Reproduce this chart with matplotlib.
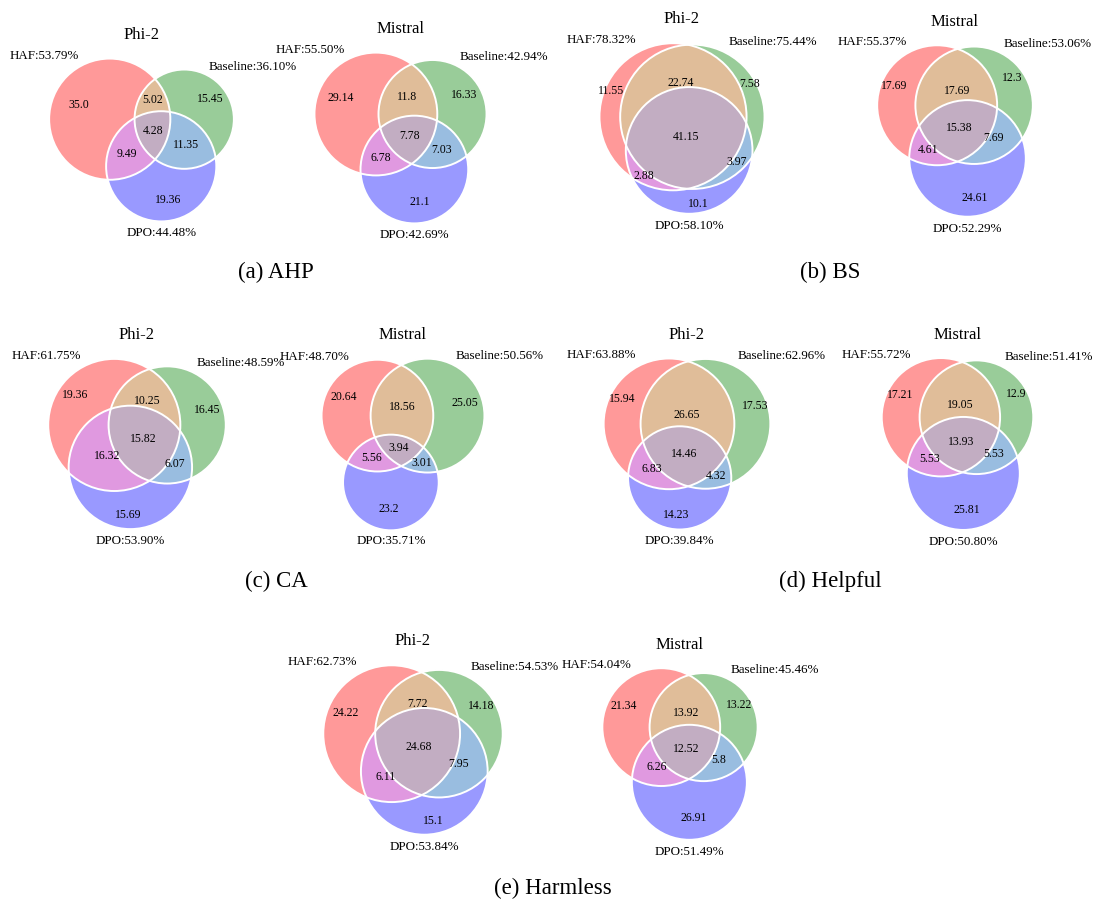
import numpy as np
import matplotlib
matplotlib.use('Agg')
import matplotlib.pyplot as plt
from matplotlib.patches import Circle, Polygon

plt.rcParams['font.family'] = ['Liberation Serif', 'DejaVu Serif']

# subset order (as venn3): HAF only, Baseline only, HAF&Baseline, DPO only,
#                          HAF&DPO, Baseline&DPO, all three
set_names = ['HAF', 'Baseline', 'DPO']
models    = ['Phi-2', 'Mistral']
captions  = ['(a) AHP', '(b) BS', '(c) CA', '(d) Helpful', '(e) Harmless']

ahp_phi2         = [35.0, 15.45, 5.02, 19.36, 9.49, 11.35, 4.28]
ahp_mistral      = [29.14, 16.33, 11.8, 21.1, 6.78, 7.03, 7.78]
bs_phi2          = [11.55, 7.58, 22.74, 10.1, 2.88, 3.97, 41.15]
bs_mistral       = [17.69, 12.3, 17.69, 24.61, 4.61, 7.69, 15.38]
ca_phi2          = [19.36, 16.45, 10.25, 15.69, 16.32, 6.07, 15.82]
ca_mistral       = [20.64, 25.05, 18.56, 23.2, 5.56, 3.01, 3.94]
helpful_phi2     = [15.94, 17.53, 26.65, 14.23, 6.83, 4.32, 14.46]
helpful_mistral  = [17.21, 12.9, 19.05, 25.81, 5.53, 5.53, 13.93]
harmless_phi2    = [24.22, 14.18, 7.72, 15.1, 6.11, 7.95, 24.68]
harmless_mistral = [21.34, 13.22, 13.92, 26.91, 6.26, 5.8, 12.52]

datasets = [(ahp_phi2, ahp_mistral), (bs_phi2, bs_mistral), (ca_phi2, ca_mistral),
            (helpful_phi2, helpful_mistral), (harmless_phi2, harmless_mistral)]

# layout (pixels)
FW, FH = 1105, 905
BW, BH = 214, 200
panel_xy = [[(141.5, 140), (400.5, 138)], [(682, 128.5), (955, 131)],
            [(137, 444), (403, 444.5)], [(687, 444), (957.5, 444)],
            [(413, 750), (680, 754)]]
caption_xy = [(276, 278), (830, 278), (276, 587), (830, 587), (553, 894)]

# colours like venn3 defaults (r, g, b with alpha 0.4 on white)
base = np.array([[1, 0, 0], [0, 0.5, 0], [0, 0, 1]], float)
def on_white(c, alpha=0.4):
    return tuple(1 - alpha + alpha * np.minimum(c, 1))
col_single = [on_white(c) for c in base]
col_pair = {(0, 1): on_white(0.7 * (base[0] + base[1])),
            (0, 2): on_white(0.7 * (base[0] + base[2])),
            (1, 2): on_white(0.7 * (base[1] + base[2]))}
col_all = on_white(0.4 * base.sum(0))


def lens_area(r1, r2, d):
    if d >= r1 + r2:
        return 0.0
    if d <= abs(r1 - r2):
        return np.pi * min(r1, r2) ** 2
    a1 = r1 ** 2 * np.arccos((d * d + r1 * r1 - r2 * r2) / (2 * d * r1))
    a2 = r2 ** 2 * np.arccos((d * d + r2 * r2 - r1 * r1) / (2 * d * r2))
    a3 = 0.5 * np.sqrt((-d + r1 + r2) * (d + r1 - r2) * (d - r1 + r2) * (d + r1 + r2))
    return a1 + a2 - a3


def dist_for_area(r1, r2, area):
    lo, hi = abs(r1 - r2), r1 + r2
    for _ in range(60):
        mid = (lo + hi) / 2
        if lens_area(r1, r2, mid) > area:
            lo = mid
        else:
            hi = mid
    return (lo + hi) / 2


def layout(sub):
    s = np.array(sub, float) / np.sum(sub)
    a, b, ab, c, ac, bc, abc = s
    radii = np.sqrt(np.array([a + ab + ac + abc, b + ab + bc + abc, c + ac + bc + abc]) / np.pi)
    d_ab = dist_for_area(radii[0], radii[1], ab + abc)
    d_bc = dist_for_area(radii[1], radii[2], bc + abc)
    d_ac = dist_for_area(radii[0], radii[2], ac + abc)
    cx = (d_ac ** 2 - d_bc ** 2 + d_ab ** 2) / (2 * d_ab)
    cy = -np.sqrt(max(d_ac ** 2 - cx ** 2, 0))
    return np.array([[0, 0], [d_ab, 0], [cx, cy]], float), radii


def crossings(centers, radii, i, j):
    v = centers[j] - centers[i]
    d = np.hypot(*v)
    if d >= radii[i] + radii[j] or d <= abs(radii[i] - radii[j]):
        return []
    a = (d * d + radii[i] ** 2 - radii[j] ** 2) / (2 * d)
    h = np.sqrt(max(radii[i] ** 2 - a * a, 0))
    u = v / d
    perp = np.array([-u[1], u[0]])
    return [centers[i] + a * u + h * perp, centers[i] + a * u - h * perp]


def inter_poly(centers, radii, idx, n=720):
    t = np.linspace(0, 2 * np.pi, n, endpoint=False)
    pts = []
    for i in idx:
        p = centers[i] + radii[i] * np.c_[np.cos(t), np.sin(t)]
        keep = np.ones(n, bool)
        for j in idx:
            if j != i:
                keep &= np.hypot(*(p - centers[j]).T) <= radii[j]
        pts.append(p[keep])
    for i in idx:
        for j in idx:
            if j <= i:
                continue
            for q in crossings(centers, radii, i, j):
                if all(np.hypot(*(q - centers[k])) <= radii[k] + 1e-9 for k in idx if k not in (i, j)):
                    pts.append(q[None, :])
    pts = np.vstack(pts)
    m = pts.mean(0)
    order = np.argsort(np.arctan2(pts[:, 1] - m[1], pts[:, 0] - m[0]))
    return pts[order]


codes = [(1, 0, 0), (0, 1, 0), (1, 1, 0), (0, 0, 1), (1, 0, 1), (0, 1, 1), (1, 1, 1)]

def in_region(p, code, centers, radii):
    return all((np.hypot(*(p - centers[k])) < radii[k]) == bool(code[k]) for k in range(3))


def region_arcs(code, centers, radii):
    # boundary arcs of a region: (length, midpoint, inward normal, end points)
    arcs = []
    for i in range(3):
        angs = []
        for j in range(3):
            if j != i:
                for q in crossings(centers, radii, i, j):
                    angs.append(np.arctan2(q[1] - centers[i][1], q[0] - centers[i][0]))
        angs = sorted(a % (2 * np.pi) for a in angs)
        if not angs:
            spans = [(0.0, 2 * np.pi)]
        else:
            spans = [(angs[k], angs[(k + 1) % len(angs)] + (2 * np.pi if k == len(angs) - 1 else 0))
                     for k in range(len(angs))]
        for t0, t1 in spans:
            tm = (t0 + t1) / 2
            u = np.array([np.cos(tm), np.sin(tm)])
            mid = centers[i] + radii[i] * u
            if all((np.hypot(*(mid - centers[j])) < radii[j]) == bool(code[j]) for j in range(3) if j != i):
                ends = [centers[i] + radii[i] * np.array([np.cos(t), np.sin(t)]) for t in (t0, t1)]
                arcs.append((radii[i] * (t1 - t0), mid, -u if code[i] else u, ends))
    return arcs


def hull_area(pts):
    pts = pts[np.lexsort((pts[:, 1], pts[:, 0]))]
    def half(ps):
        h = []
        for p in ps:
            while len(h) >= 2 and ((h[-1][0] - h[-2][0]) * (p[1] - h[-2][1]) -
                                   (h[-1][1] - h[-2][1]) * (p[0] - h[-2][0])) <= 0:
                h.pop()
            h.append(p)
        return h
    hull = np.array(half(pts)[:-1] + half(pts[::-1])[:-1])
    x, y = hull[:, 0], hull[:, 1]
    return 0.5 * abs(np.dot(x, np.roll(y, -1)) - np.dot(y, np.roll(x, -1)))


def march(mid, nrm, code, centers, radii):
    step = radii.max() / 500
    s = step
    while s < 3 * radii.max() and in_region(mid + s * nrm, code, centers, radii):
        s += step
    return s


def label_spots(centers, radii, n=240):
    lo = (centers - radii[:, None]).min(0)
    hi = (centers + radii[:, None]).max(0)
    xs, ys = np.linspace(lo[0], hi[0], n), np.linspace(lo[1], hi[1], n)
    cell = (xs[1] - xs[0]) * (ys[1] - ys[0])
    X, Y = np.meshgrid(xs, ys)
    dd = [np.hypot(X - c[0], Y - c[1]) - r for c, r in zip(centers, radii)]
    clear = np.min([np.abs(d) for d in dd], axis=0)
    spots = []
    for code in codes:
        arcs = region_arcs(code, centers, radii)
        if sum(code) == 1:
            # single-set region: along the inward normal of its outer arc
            _, mid, nrm, _ = max(arcs, key=lambda a: a[0])
            spots.append(tuple(mid + 0.35 * march(mid, nrm, code, centers, radii) * nrm))
            continue
        m = np.ones_like(X, bool)
        for k in range(3):
            m &= (dd[k] < 0) if code[k] else (dd[k] >= 0)
        pts = np.c_[X[m], Y[m]]
        solidity = len(pts) * cell / hull_area(pts)
        if solidity > 0.86:
            spots.append(tuple(pts.mean(0)))
            continue
        # crescent-like: mean of arc ends and midpoints, pulled back inside
        cand = [a[1] for a in arcs] + [e for a in arcs for e in a[3]]
        p = np.mean(cand, axis=0)
        ok = m & (clear > 0.03)
        if not (in_region(p, code, centers, radii) and clear.flat[np.argmin(np.hypot(X - p[0], Y - p[1]))] > 0.03):
            j = np.argmin(np.where(ok, np.hypot(X - p[0], Y - p[1]), np.inf))
            p = np.array([X.flat[j], Y.flat[j]])
        spots.append(tuple(p))
    return spots


def draw_venn(ax, sub, title):
    centers, radii = layout(sub)
    for i in range(3):
        ax.add_patch(Circle(centers[i], radii[i], fc=col_single[i], ec='none'))
    for idx, col in list(col_pair.items()) + [((0, 1, 2), col_all)]:
        ax.add_patch(Polygon(inter_poly(centers, radii, idx), closed=True, fc=col, ec='none'))
    for i in range(3):
        ax.add_patch(Circle(centers[i], radii[i], fill=False, ec='white', lw=1.4))

    for (px, py), v in zip(label_spots(centers, radii), sub):
        ax.text(px, py, str(v), ha='center', va='center', fontsize=8.5)

    totals = [sub[0] + sub[2] + sub[4] + sub[6], sub[1] + sub[2] + sub[5] + sub[6],
              sub[3] + sub[4] + sub[5] + sub[6]]
    txt = ['%s:%.2f%%' % (nm, tot) for nm, tot in zip(set_names, totals)]
    ax.text(centers[0][0] - radii[0] / 2, centers[0][1] + radii[0], txt[0], ha='right', va='baseline', fontsize=9.4)
    ax.text(centers[1][0] + radii[1] / 2, centers[1][1] + radii[1], txt[1], ha='left', va='baseline', fontsize=9.4)
    ax.text(centers[2][0], centers[2][1] - 1.1 * radii[2], txt[2], ha='center', va='top', fontsize=9.4)

    mins = (centers - radii[:, None]).min(0)
    maxs = (centers + radii[:, None]).max(0)
    ax.set_xlim(mins[0] - 0.1, maxs[0] + 0.1)
    ax.set_ylim(mins[1] - 0.1, maxs[1] + 0.1)
    ax.set_aspect('equal', adjustable='box', anchor='C')
    ax.set_axis_off()
    ax.set_title(title, fontsize=12, pad=3.9)


fig = plt.figure(figsize=(FW / 100, FH / 100), dpi=100)

for pair, spots, cap, cxy in zip(datasets, panel_xy, captions, caption_xy):
    for sub, (x, y), model in zip(pair, spots, models):
        ax = fig.add_axes([(x - BW / 2) / FW, 1 - (y + BH / 2) / FH, BW / FW, BH / FH])
        draw_venn(ax, sub, model)
    fig.text(cxy[0] / FW, 1 - cxy[1] / FH, cap, ha='center', va='baseline', fontsize=16.5)

fig.savefig('out.png', dpi=100)
